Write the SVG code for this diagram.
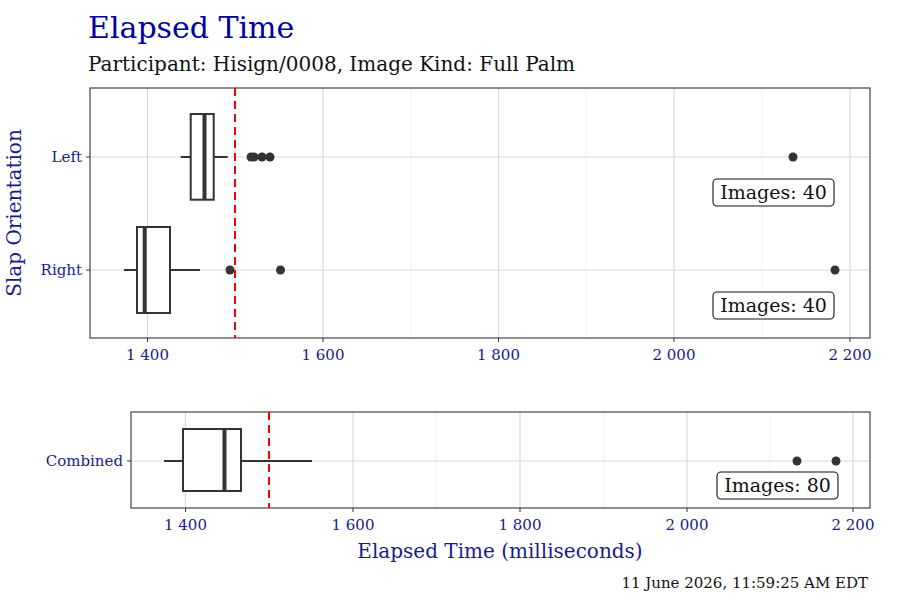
<svg xmlns="http://www.w3.org/2000/svg" width="900" height="600" viewBox="0 0 900 600">
<style>
text{font-family:"DejaVu Serif","Liberation Serif",serif}
.maj{stroke:#d9d9d9;stroke-width:1.2}
.min{stroke:#ececec;stroke-width:0.7}
.frame{fill:none;stroke:#333;stroke-width:1.1}
.box{fill:#fff;stroke:#333;stroke-width:2}
.wh{stroke:#333;stroke-width:2}
.med{stroke:#333;stroke-width:4}
.pt{fill:#333}
.ref{stroke:red;stroke-width:2;stroke-dasharray:8,5}
.tick{font-size:15px;fill:#1a1a8c}
.lab{fill:#fff;stroke:#111;stroke-width:1.1}
.labt{font-size:19px;fill:#111}
</style>
<rect width="900" height="600" fill="#fff"/>
<text x="88" y="38" font-size="30" fill="#0000a0">Elapsed Time</text>
<text x="88" y="71" font-size="20" fill="#111">Participant: Hisign/0008, Image Kind: Full Palm</text>
<text transform="translate(21,213) rotate(-90)" text-anchor="middle" font-size="20" fill="#1a1a8c">Slap Orientation</text>

<g id="top-panel">
<line class="min" x1="235" y1="88" x2="235" y2="338"/><line class="min" x1="411" y1="88" x2="411" y2="338"/><line class="min" x1="586" y1="88" x2="586" y2="338"/><line class="min" x1="762" y1="88" x2="762" y2="338"/>
<line class="maj" x1="147.5" y1="88" x2="147.5" y2="338"/><line class="maj" x1="323" y1="88" x2="323" y2="338"/><line class="maj" x1="498.5" y1="88" x2="498.5" y2="338"/><line class="maj" x1="674" y1="88" x2="674" y2="338"/><line class="maj" x1="850" y1="88" x2="850" y2="338"/>
<line class="maj" x1="90" y1="157" x2="870" y2="157"/><line class="maj" x1="90" y1="270" x2="870" y2="270"/>
<rect class="frame" x="90" y="88" width="780" height="250"/>
<g stroke="#333"><line x1="147.5" y1="338" x2="147.5" y2="342"/><line x1="323" y1="338" x2="323" y2="342"/><line x1="498.5" y1="338" x2="498.5" y2="342"/><line x1="674" y1="338" x2="674" y2="342"/><line x1="850" y1="338" x2="850" y2="342"/><line x1="86" y1="157" x2="90" y2="157"/><line x1="86" y1="270" x2="90" y2="270"/></g>
<g class="tick" text-anchor="middle"><text x="147.5" y="360">1 400</text><text x="323" y="360">1 600</text><text x="498.5" y="360">1 800</text><text x="674" y="360">2 000</text><text x="850" y="360">2 200</text></g>
<g class="tick" text-anchor="end"><text x="82" y="162">Left</text><text x="82" y="275">Right</text></g>
</g>
<g id="left-box">
<line class="wh" x1="180.7" y1="157" x2="227.7" y2="157"/>
<rect class="box" x="190.7" y="114" width="23" height="85.7"/>
<line class="med" x1="204.5" y1="114" x2="204.5" y2="199.7"/>
<circle class="pt" cx="251" cy="157" r="4.5"/><circle class="pt" cx="254" cy="157" r="4.5"/><circle class="pt" cx="262" cy="157" r="4.5"/><circle class="pt" cx="270" cy="157" r="4.5"/><circle class="pt" cx="793" cy="157" r="4.5"/>
</g>
<g id="right-box">
<line class="wh" x1="124" y1="270" x2="200" y2="270"/>
<rect class="box" x="137" y="227" width="33" height="86"/>
<line class="med" x1="144.7" y1="227" x2="144.7" y2="313"/>
<circle class="pt" cx="230" cy="270" r="4.5"/><circle class="pt" cx="280.5" cy="270" r="4.5"/><circle class="pt" cx="835" cy="270" r="4.5"/>
</g>
<line class="ref" x1="235" y1="88" x2="235" y2="338"/>
<g id="label-left"><rect class="lab" x="713" y="179" width="121" height="27" rx="4"/><text class="labt" x="773.5" y="199" text-anchor="middle">Images: 40</text></g>
<g id="label-right"><rect class="lab" x="713" y="292" width="121" height="27" rx="4"/><text class="labt" x="773.5" y="312" text-anchor="middle">Images: 40</text></g>

<g id="bottom-panel">
<line class="min" x1="269" y1="412" x2="269" y2="508"/><line class="min" x1="436.5" y1="412" x2="436.5" y2="508"/><line class="min" x1="603.5" y1="412" x2="603.5" y2="508"/><line class="min" x1="770" y1="412" x2="770" y2="508"/>
<line class="maj" x1="185.5" y1="412" x2="185.5" y2="508"/><line class="maj" x1="353" y1="412" x2="353" y2="508"/><line class="maj" x1="520" y1="412" x2="520" y2="508"/><line class="maj" x1="687" y1="412" x2="687" y2="508"/><line class="maj" x1="853" y1="412" x2="853" y2="508"/>
<line class="maj" x1="131" y1="461" x2="870" y2="461"/>
<rect class="frame" x="131" y="412" width="739" height="96"/>
<g stroke="#333"><line x1="185.5" y1="508" x2="185.5" y2="512"/><line x1="353" y1="508" x2="353" y2="512"/><line x1="520" y1="508" x2="520" y2="512"/><line x1="687" y1="508" x2="687" y2="512"/><line x1="853" y1="508" x2="853" y2="512"/><line x1="127" y1="461" x2="131" y2="461"/></g>
<g class="tick" text-anchor="middle"><text x="185.5" y="530">1 400</text><text x="353" y="530">1 600</text><text x="520" y="530">1 800</text><text x="687" y="530">2 000</text><text x="853" y="530">2 200</text></g>
<text class="tick" x="123" y="466" text-anchor="end">Combined</text>
</g>
<g id="combined-box">
<line class="wh" x1="164" y1="461" x2="312" y2="461"/>
<rect class="box" x="183" y="429" width="58" height="62"/>
<line class="med" x1="224.5" y1="429" x2="224.5" y2="491"/>
<circle class="pt" cx="797" cy="461" r="4.5"/><circle class="pt" cx="836" cy="461" r="4.5"/>
</g>
<line class="ref" x1="269" y1="412" x2="269" y2="508"/>
<g id="label-combined"><rect class="lab" x="717" y="472" width="121" height="27" rx="4"/><text class="labt" x="777.5" y="492" text-anchor="middle">Images: 80</text></g>
<text x="500" y="558" text-anchor="middle" font-size="20" fill="#1a1a8c">Elapsed Time (milliseconds)</text>
<text x="868" y="588" text-anchor="end" font-size="15" fill="#111">11 June 2026, 11:59:25 AM EDT</text>
</svg>
